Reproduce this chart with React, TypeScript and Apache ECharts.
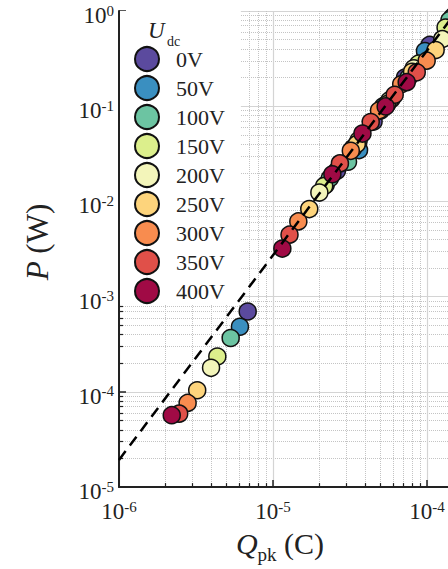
import React, { useEffect, useRef } from 'react';
import * as echarts from 'echarts';

const voltages = ['0V', '50V', '100V', '150V', '200V', '250V', '300V', '350V', '400V'];
const palette = ['#5b4a9e', '#3a8fc0', '#6cc4a2', '#dcef8c', '#f3f5ba', '#fdd47c', '#f88c4f', '#e05049', '#a00a45'];

// Q_pk (C) and P (W) per DC voltage
const q0V = [6.85e-6, 26e-6, 45e-6, 72e-6, 104e-6, 150e-6];
const p0V = [6.98e-4, 2.1e-2, 6.9e-2, 0.2, 0.44, 0.9];
const q50V = [6.1e-6, 22e-6, 36.2e-6, 52e-6, 97e-6, 146e-6];
const p50V = [4.83e-4, 1.5e-2, 3.46e-2, 0.1, 0.38, 0.86];
const q100V = [5.31e-6, 23.4e-6, 30.7e-6, 50e-6, 76e-6, 140e-6];
const p100V = [3.68e-4, 1.75e-2, 2.61e-2, 9.0e-2, 0.2, 0.8];
const q150V = [4.35e-6, 21.5e-6, 36e-6, 59e-6, 88e-6, 132e-6];
const p150V = [2.35e-4, 1.45e-2, 4.4e-2, 0.12, 0.28, 0.67];
const q200V = [3.96e-6, 20.0e-6, 33.1e-6, 57e-6, 82e-6, 125.7e-6];
const p200V = [1.79e-4, 1.24e-2, 3.63e-2, 0.115, 0.25, 0.507];
const q250V = [3.22e-6, 17.2e-6, 35e-6, 55e-6, 80e-6, 113.8e-6];
const p250V = [1.04e-4, 8.32e-3, 4.0e-2, 0.105, 0.23, 0.389];
const q300V = [2.79e-6, 14.6e-6, 32.0e-6, 48.8e-6, 68e-6, 99.5e-6];
const p300V = [7.66e-5, 6.17e-3, 3.4e-2, 9.04e-2, 0.17, 0.301];
const q350V = [2.46e-6, 12.8e-6, 27.2e-6, 43.1e-6, 61.7e-6, 85.8e-6];
const p350V = [5.91e-5, 4.48e-3, 2.51e-2, 6.82e-2, 0.132, 0.227];
const q400V = [2.2e-6, 11.5e-6, 24.3e-6, 38.1e-6, 53.9e-6, 73.8e-6];
const p400V = [5.69e-5, 3.2e-3, 1.93e-2, 5.16e-2, 9.95e-2, 0.179];

const chargeSets = [q0V, q50V, q100V, q150V, q200V, q250V, q300V, q350V, q400V];
const powerSets = [p0V, p50V, p100V, p150V, p200V, p250V, p300V, p350V, p400V];

// dashed fit line
const fitQ = [1e-6, 1.56e-4];
const fitP = [1.93e-5, 1];

const serif = 'Liberation Serif, DejaVu Serif, serif';
const ink = '#222222';

export default function App() {
  const ref = useRef<HTMLDivElement>(null);
  useEffect(() => {
    if (!ref.current) return;
    const chart = echarts.init(ref.current, undefined, { renderer: 'svg' });
    const richLab = {
      b: { fontSize: 23, fontFamily: serif, color: ink, lineHeight: 24, padding: [4, 0, 0, 0], verticalAlign: 'bottom' },
      s: { fontSize: 15, fontFamily: serif, color: ink, lineHeight: 15, verticalAlign: 'top' },
    };
    const scatterSeries = voltages.map((name, i) => ({
      type: 'scatter',
      name,
      z: 2,
      symbol: 'circle',
      symbolSize: 17,
      itemStyle: { color: palette[i], borderColor: '#111', borderWidth: 1.5, opacity: 1 },
      data: chargeSets[i].map((q, k) => [q, powerSets[i][k]]),
    }));
    chart.setOption({
      animation: false,
      backgroundColor: '#ffffff',
      grid: { left: 119, right: 19, top: 10, bottom: 80 },
      xAxis: {
        type: 'log',
        logBase: 10,
        min: 1e-6,
        max: 1e-3,
        name: '{q|Q}{s|pk}{n| (C)}',
        nameLocation: 'middle',
        nameGap: 40,
        nameTextStyle: {
          padding: [0, 140, 0, 0],
          rich: {
            q: { fontSize: 30, fontFamily: serif, fontStyle: 'italic', color: ink, lineHeight: 32, verticalAlign: 'top' },
            s: { fontSize: 19, fontFamily: serif, color: ink, lineHeight: 19, padding: [17, 0, 0, 0], verticalAlign: 'top' },
            n: { fontSize: 30, fontFamily: serif, color: ink, lineHeight: 32, verticalAlign: 'top' },
          },
        },
        axisLine: { show: true, lineStyle: { color: ink, width: 2 } },
        axisTick: { show: true, inside: true, length: 7, lineStyle: { color: ink, width: 1.5 } },
        minorTick: { show: true, splitNumber: 9, length: 4, lineStyle: { color: ink, width: 1.2 } },
        axisLabel: {
          margin: 12,
          formatter: (v: number) => (v > 2e-4 ? '' : `{b|10}{s|${Math.round(Math.log10(v))}}`),
          rich: richLab,
        },
        splitLine: { show: true, lineStyle: { color: '#d4d4d4', width: 1.2 } },
        minorSplitLine: { show: true, lineStyle: { color: '#c4c4c4', width: 1, type: 'dotted' } },
      },
      yAxis: {
        type: 'log',
        logBase: 10,
        min: 1e-5,
        max: 1,
        name: '{i|P} (W)',
        nameLocation: 'middle',
        nameGap: 66,
        nameRotate: 90,
        nameTextStyle: {
          fontSize: 31,
          fontFamily: serif,
          color: ink,
          padding: [0, 0, 0, 14],
          rich: { i: { fontSize: 31, fontFamily: serif, fontStyle: 'italic', color: ink } },
        },
        axisLine: { show: true, lineStyle: { color: ink, width: 2 } },
        axisTick: { show: true, inside: true, length: 7, lineStyle: { color: ink, width: 1.5 } },
        minorTick: { show: true, splitNumber: 9, length: 4, lineStyle: { color: ink, width: 1.2 } },
        axisLabel: {
          margin: 5,
          padding: [8, 0, 0, 0],
          formatter: (v: number) => `{b|10}{s|${Math.round(Math.log10(v))}}`,
          rich: richLab,
        },
        splitLine: { show: true, lineStyle: { color: '#d4d4d4', width: 1.2 } },
        minorSplitLine: { show: true, lineStyle: { color: '#c4c4c4', width: 1, type: 'dotted' } },
      },
      legend: {
        data: voltages,
        orient: 'vertical',
        left: 120,
        top: 11,
        padding: [35, 16, 0, 14],
        itemWidth: 24,
        itemHeight: 24,
        itemGap: 3,
        icon: 'circle',
        backgroundColor: '#ffffff',
        itemStyle: { borderColor: '#111', borderWidth: 2 },
        textStyle: { fontFamily: serif, fontSize: 22, lineHeight: 24, color: ink, padding: [0, 0, 0, 12] },
      },
      graphic: [
        { type: 'text', x: 148, y: 30, z: 100, style: { text: 'U', font: `italic 23px ${serif}`, fill: ink, verticalAlign: 'middle' } },
        { type: 'text', x: 167, y: 41, z: 100, style: { text: 'dc', font: `14px ${serif}`, fill: ink, verticalAlign: 'middle' } },
      ],
      series: [
        ...scatterSeries,
        {
          type: 'line',
          name: 'fit',
          z: 5,
          symbol: 'none',
          silent: true,
          lineStyle: { color: '#000', width: 2.5, type: [11, 7] },
          data: fitQ.map((q, k) => [q, fitP[k]]),
        },
      ],
    });
    return () => chart.dispose();
  }, []);
  return (
    <div style={{ position: 'fixed', left: 0, top: 0, width: 448, height: 569, overflow: 'hidden', background: '#fff' }}>
      <div ref={ref} style={{ width: 600, height: 569 }} />
    </div>
  );
}
